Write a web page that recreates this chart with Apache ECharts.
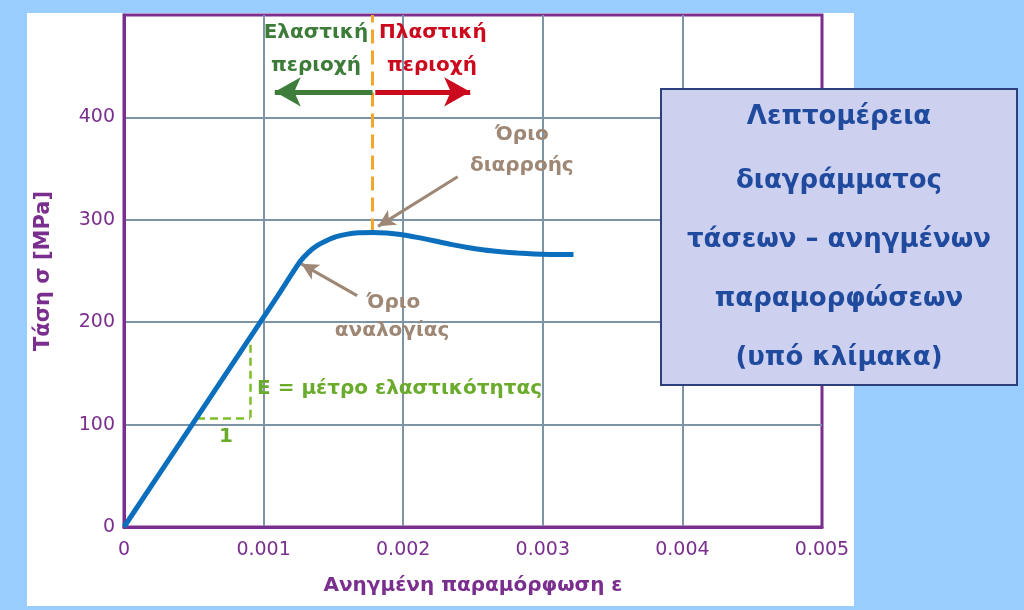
<!DOCTYPE html>
<html><head><meta charset="utf-8">
<script src="https://cdn.jsdelivr.net/npm/echarts@6/dist/echarts.min.js"></script>
<style>html,body{margin:0;padding:0;background:#99ccff;}#c{width:1024px;height:610px;}</style>
</head><body><div id="c"></div>
<script>
// ---- data ----
var strain = [0, 0.0004, 0.0008, 0.00110, 0.00126, 0.00132, 0.00138, 0.00145, 0.00152, 0.00160, 0.00168, 0.00178, 0.00188, 0.00198, 0.00210, 0.00222, 0.00234, 0.00246, 0.00258, 0.00270, 0.00282, 0.00294, 0.00306, 0.00322];
var stress = [0, 82, 164, 225.5, 259, 268, 274.5, 279.5, 283.5, 286, 287.3, 287.6, 287, 285.6, 282.8, 279.5, 276, 273, 270.5, 268.8, 267.5, 266.6, 266.2, 266];
var xTicks = ['0', '0.001', '0.002', '0.003', '0.004', '0.005'];
var yTicks = ['0', '100', '200', '300', '400'];
var yieldStrain = 0.00178, yieldStress = 287.6;
var propStrain = 0.00126, propStress = 259;
var regionArrowStress = 425;
var elasticArrowEnd = 0.00108, plasticArrowEnd = 0.00248;
var yieldLabelPt = [0.00239, 342];
var propLabelPt = [0.00167, 226];
var triX = [0.000523, 0.000903], triY = [106.6, 182.9];
var texts = [
  ['Ελαστική', 0.001375, 483, '#3d7b39', 'center'],
  ['περιοχή', 0.001375, 450, '#3d7b39', 'center'],
  ['Πλαστική', 0.002213, 483, '#cc0a1e', 'center'],
  ['περιοχή', 0.002206, 450, '#cc0a1e', 'center'],
  ['Όριο', 0.00285, 383, '#9e8775', 'center'],
  ['διαρροής', 0.00285, 353, '#9e8775', 'center'],
  ['Όριο', 0.00193, 219, '#9e8775', 'center'],
  ['αναλογίας', 0.00192, 191.5, '#9e8775', 'center'],
  ['1', 0.00073, 88, '#6aab2c', 'center'],
  ['E = μέτρο ελαστικότητας', 0.000953, 135, '#6aab2c', 'left']
];
var boxLines = ['Λεπτομέρεια', 'διαγράμματος', 'τάσεων – ανηγμένων', 'παραμορφώσεων', '(υπό κλίμακα)'];

var PUR = '#7a2f8f', FONT = 'DejaVu Sans';
var pts = strain.map(function (s, i) { return [s, stress[i]]; });
var chart = echarts.init(document.getElementById('c'));
var opt = {
  animation: false,
  backgroundColor: '#99ccff',
  grid: { left: 124, right: 202, top: 15, bottom: 83, show: true, borderColor: PUR, borderWidth: 3, backgroundColor: 'transparent' },
  xAxis: {
    type: 'value', min: 0, max: 0.005, interval: 0.001,
    name: 'Ανηγμένη παραμόρφωση ε', nameLocation: 'middle', nameGap: 49,
    nameTextStyle: { color: PUR, fontSize: 20, fontWeight: 'bold', fontFamily: FONT },
    axisLine: { lineStyle: { color: PUR, width: 3 } }, axisTick: { show: false },
    axisLabel: { color: PUR, fontSize: 19, fontFamily: FONT, margin: 14, formatter: function (v) { return xTicks[Math.round(v / 0.001)]; } },
    splitLine: { showMinLine: false, showMaxLine: false, lineStyle: { color: '#7d93a6', width: 2 } }
  },
  yAxis: {
    type: 'value', min: 0, max: 500, interval: 100,
    name: 'Τάση σ [MPa]', nameLocation: 'middle', nameGap: 70,
    nameTextStyle: { color: PUR, fontSize: 21, fontWeight: 'bold', fontFamily: FONT },
    axisLine: { lineStyle: { color: PUR, width: 3 } }, axisTick: { show: false },
    axisLabel: { color: PUR, fontSize: 19, fontFamily: FONT, margin: 9, showMaxLabel: false, formatter: function (v) { return yTicks[Math.round(v / 100)] || ''; } },
    splitLine: { showMinLine: false, showMaxLine: false, lineStyle: { color: '#7d93a6', width: 2 } }
  },
  series: [{
    type: 'line', data: pts, showSymbol: false, smooth: 0.25, z: 5,
    lineStyle: { color: '#0b6fbd', width: 5 },
    markLine: {
      silent: true, animation: false, label: { show: false },
      data: [
        [{ coord: [yieldStrain, yieldStress], symbol: 'none', lineStyle: { color: '#f3a62a', width: 3, type: [14, 7] } }, { coord: [yieldStrain, 500], symbol: 'none' }],
        [{ coord: [yieldStrain, regionArrowStress], symbol: 'none', lineStyle: { color: '#3f7d3a', width: 5, type: 'solid' } }, { coord: [elasticArrowEnd, regionArrowStress], symbol: 'arrow', symbolSize: [22, 26] }],
        [{ coord: [yieldStrain + 0.00002, regionArrowStress], symbol: 'none', lineStyle: { color: '#cc0a1e', width: 5, type: 'solid' } }, { coord: [plasticArrowEnd, regionArrowStress], symbol: 'arrow', symbolSize: [22, 26] }],
        [{ coord: yieldLabelPt, symbol: 'none', lineStyle: { color: '#9e8775', width: 3, type: 'solid' } }, { coord: [yieldStrain + 0.00004, yieldStress + 6], symbol: 'arrow', symbolSize: [13, 17] }],
        [{ coord: propLabelPt, symbol: 'none', lineStyle: { color: '#9e8775', width: 3, type: 'solid' } }, { coord: [propStrain + 0.00001, propStress - 2], symbol: 'arrow', symbolSize: [13, 17] }],
        [{ coord: [triX[0], triY[0]], symbol: 'none', lineStyle: { color: '#7fbf2a', width: 2.5, type: [8, 5] } }, { coord: [triX[1], triY[0]], symbol: 'none' }],
        [{ coord: [triX[1], triY[0]], symbol: 'none', lineStyle: { color: '#7fbf2a', width: 2.5, type: [8, 5] } }, { coord: [triX[1], triY[1]], symbol: 'none' }]
      ]
    }
  }],
  graphic: [
    { type: 'rect', id: 'panel', z: -10, shape: { x: 27, y: 13, width: 827, height: 593 }, style: { fill: '#ffffff' } }
  ]
};
chart.setOption(opt);

var g = [];
texts.forEach(function (t, i) {
  var p = chart.convertToPixel({ gridIndex: 0 }, [t[1], t[2]]);
  g.push({ type: 'text', id: 't' + i, z: 20, x: p[0], y: p[1],
    style: { text: t[0], fill: t[3], font: 'bold 20px ' + FONT, textAlign: t[4], textVerticalAlign: 'middle' } });
});
g.push({ type: 'rect', id: 'box', z: 30, shape: { x: 661, y: 89, width: 356, height: 296 }, style: { fill: '#cdd1ef', stroke: '#2d3f7d', lineWidth: 2 } });
var boxY = [117, 181, 240, 299, 358];
boxLines.forEach(function (l, i) {
  g.push({ type: 'text', id: 'b' + i, z: 31, x: 839, y: boxY[i],
    style: { text: l, fill: '#1f4a9e', font: 'bold 26px ' + FONT, textAlign: 'center', textVerticalAlign: 'middle' } });
});
chart.setOption({ graphic: g });
</script></body></html>
